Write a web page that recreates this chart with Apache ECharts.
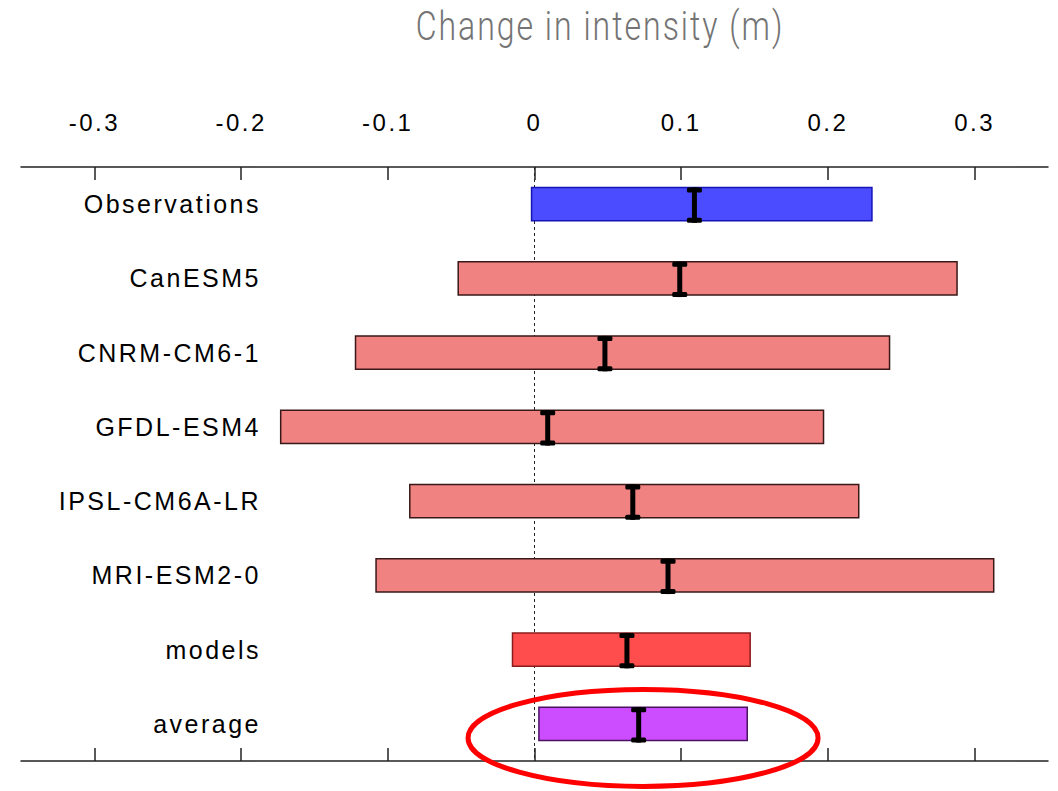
<!DOCTYPE html>
<html>
<head>
<meta charset="utf-8">
<script src="https://cdn.jsdelivr.net/npm/echarts@6/dist/echarts.min.js"></script>
<style>
  html, body { margin: 0; padding: 0; background: #ffffff; }
  #chart { width: 1058px; height: 791px; }
  /* wide glyph spacing of the plot's text */
  #chart text { letter-spacing: 2.5px; }
</style>
</head>
<body>
<div id="chart"></div>
<script>
// Rows, top to bottom
const categories = ['Observations', 'CanESM5', 'CNRM-CM6-1', 'GFDL-ESM4', 'IPSL-CM6A-LR', 'MRI-ESM2-0', 'models', 'average'];
// Range of each row (m)
const rangeLow  = [-0.002, -0.052, -0.122, -0.173, -0.085, -0.108, -0.015, 0.003];
const rangeHigh = [ 0.230,  0.288,  0.242,  0.197,  0.221,  0.313,  0.147, 0.145];
// Central estimate shown by the I-beam marker (m)
const centralValue = [0.109, 0.099, 0.048, 0.009, 0.067, 0.091, 0.063, 0.071];
// Axis ticks
const tickValues = [-0.3, -0.2, -0.1, 0, 0.1, 0.2, 0.3];
const tickLabels = ['-0.3', '-0.2', '-0.1', '0', '0.1', '0.2', '0.3'];
const titleText = 'Change in intensity (m)';
const highlightedRow = 'average';

// Bar colours per row
const fillColors   = ['#4b4bff', '#f08282', '#f08282', '#f08282', '#f08282', '#f08282', '#ff4d4d', '#cc4cff'];
const strokeColors = ['#1414b4', '#3a1818', '#3a1818', '#3a1818', '#3a1818', '#3a1818', '#8c1c1c', '#4a1262'];

const chart = echarts.init(document.getElementById('chart'), null, { renderer: 'svg' });

const rows = categories.map((c, i) => [i, rangeLow[i], rangeHigh[i], centralValue[i]]);

function tickLabel(v) {
  const k = tickValues.findIndex(t => Math.abs(t - v) < 1e-9);
  return k >= 0 ? tickLabels[k] : '';
}

const axisLineStyle = { color: '#222222', width: 1.5 };

function renderRow(params, api) {
  const i = api.value(0);
  const lo = api.coord([api.value(1), i]);
  const hi = api.coord([api.value(2), i]);
  const mid = api.coord([api.value(3), i]);
  const band = api.size([0, 1])[1];
  const h = band * 0.45;
  const top = lo[1] - h / 2;
  const stem = 5, capW = 15, capH = 5;
  return {
    type: 'group',
    children: [
      {
        type: 'rect',
        shape: { x: lo[0], y: top, width: hi[0] - lo[0], height: h },
        style: { fill: fillColors[i], stroke: strokeColors[i], lineWidth: 1.5 }
      },
      {
        type: 'rect',
        shape: { x: mid[0] - stem / 2, y: top, width: stem, height: h + 2 },
        style: { fill: '#000000' }
      },
      {
        type: 'rect',
        shape: { x: mid[0] - capW / 2, y: top, width: capW, height: capH, r: 1.5 },
        style: { fill: '#000000' }
      },
      {
        type: 'rect',
        shape: { x: mid[0] - capW / 2, y: top + h + 2 - capH, width: capW, height: capH, r: 1.5 },
        style: { fill: '#000000' }
      }
    ]
  };
}

const titleGraphic = {
  type: 'text', x: 600, y: 26, scaleX: 0.80,
  style: {
    text: titleText, x: 0, y: 0, textAlign: 'center', textVerticalAlign: 'middle',
    fontFamily: 'Roboto', fontWeight: 300, fontSize: 40, fill: '#747474'
  }
};

const option = {
  backgroundColor: '#ffffff',
  animation: false,
  grid: { left: 21, right: 10, top: 167, bottom: 30 },
  xAxis: [
    {
      type: 'value', position: 'top', min: -0.35, max: 0.35,
      axisLine: { show: true, lineStyle: axisLineStyle },
      axisTick: { show: true, inside: true, length: 13, customValues: tickValues, lineStyle: axisLineStyle },
      axisLabel: {
        show: true, customValues: tickValues, formatter: tickLabel,
        fontFamily: 'Liberation Sans', fontSize: 24, color: '#000000', margin: 33
      },
      splitLine: { show: false }
    },
    {
      type: 'value', position: 'bottom', min: -0.35, max: 0.35,
      axisLine: { show: true, lineStyle: axisLineStyle },
      axisTick: { show: true, inside: true, length: 13, customValues: tickValues, lineStyle: axisLineStyle },
      axisLabel: { show: false },
      splitLine: { show: false }
    }
  ],
  yAxis: {
    type: 'category', data: categories, inverse: true,
    axisLine: { show: false }, axisTick: { show: false }, splitLine: { show: false },
    axisLabel: {
      inside: true, align: 'right', margin: 240,
      fontFamily: 'Liberation Sans', fontSize: 25, color: '#000000'
    }
  },
  series: [
    {
      // dotted zero reference line, kept behind the bars
      type: 'scatter', xAxisIndex: 0, yAxisIndex: 0, data: [], z: 1, silent: true,
      markLine: {
        silent: true, symbol: ['none', 'none'], label: { show: false },
        lineStyle: { color: '#222222', width: 1, type: [3, 3] },
        data: [{ xAxis: 0 }]
      }
    },
    {
      type: 'custom', xAxisIndex: 0, yAxisIndex: 0, z: 5,
      encode: { x: [1, 2, 3], y: 0 },
      data: rows,
      renderItem: renderRow
    }
  ],
  graphic: [titleGraphic]
};

chart.setOption(option);

// Red ellipse drawn around the highlighted row
const hi = categories.indexOf(highlightedRow);
const centre = chart.convertToPixel({ xAxisIndex: 0, yAxisIndex: 0 },
  [(rangeLow[hi] + rangeHigh[hi]) / 2, hi]);
chart.setOption({
  graphic: [
    titleGraphic,
    {
      type: 'ellipse', z: 100, silent: true,
      shape: { cx: centre[0], cy: centre[1] + 14, rx: 175, ry: 48.5 },
      style: { fill: 'none', stroke: '#ff0000', lineWidth: 5 }
    }
  ]
});
</script>
</body>
</html>
